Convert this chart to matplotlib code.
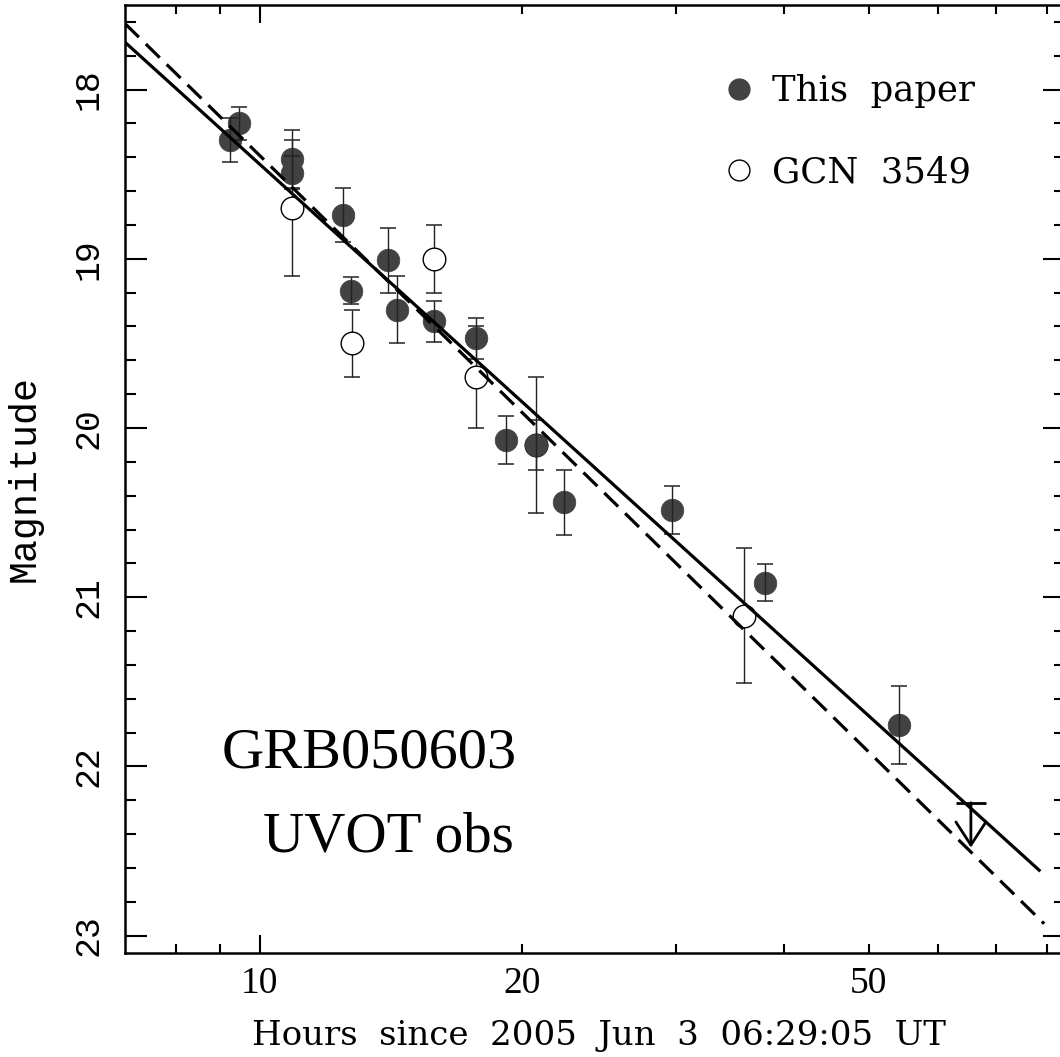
import matplotlib
matplotlib.use('Agg')
import matplotlib.pyplot as plt
from matplotlib.ticker import FixedLocator, FuncFormatter, MultipleLocator
from matplotlib.lines import Line2D

plt.rcParams['lines.scale_dashes'] = False

# ---------------- data ----------------
# "This paper" (filled circles)
paper_hours = [9.24, 9.47, 10.89, 10.89, 12.46, 12.72, 14.04, 14.37, 15.84,
               17.70, 19.16, 20.75, 22.35, 29.7, 37.98, 54.2]
paper_mag = [18.30, 18.20, 18.41, 18.49, 18.74, 19.19, 19.01, 19.30, 19.37,
             19.47, 20.07, 20.10, 20.44, 20.485, 20.915, 21.755]
paper_err = [0.13, 0.10, 0.17, 0.10, 0.16, 0.08, 0.19, 0.20, 0.12,
             0.12, 0.14, 0.15, 0.19, 0.14, 0.11, 0.23]

# "GCN 3549" (open circles)
gcn_hours = [10.89, 12.74, 15.84, 17.70, 20.75, 35.95]
gcn_mag = [18.70, 19.50, 19.00, 19.70, 20.10, 21.11]
gcn_err = [0.40, 0.20, 0.20, 0.30, 0.40, 0.40]

# upper limit
limit_hours = [65.5]
limit_mag = [22.215]
limit_arrow = [0.265]

# power-law fits (straight lines in log time)
fit_solid_hours = [7.0, 78.7]
fit_solid_mag = [17.72, 22.62]
fit_dashed_hours = [7.0, 79.5]
fit_dashed_mag = [17.61, 22.93]

x_major = [10]
x_minor = [8, 9, 20, 30, 40, 50, 60, 70, 80]
x_labelled = [10, 20, 50]
y_major = [18, 19, 20, 21, 22, 23]

legend_labels = ['This  paper', 'GCN  3549']
title_lines = ['GRB050603', 'UVOT obs']
xlabel = 'Hours  since  2005  Jun  3  06:29:05  UT'
ylabel = 'Magnitude'

# ---------------- figure ----------------
W, H = 1060, 1057
fig = plt.figure(figsize=(W / 100, H / 100), dpi=100)
ax = fig.add_axes([125 / W, 1 - 952.5 / H, 940 / W, 947.5 / H])

ax.set_xscale('log')
ax.set_xlim(7.0, 84.0)
ax.set_ylim(23.1, 17.5)

filled = '#424242'
ms = 16.3

# GCN open circles
ax.errorbar(gcn_hours, gcn_mag, yerr=gcn_err, fmt='none', ecolor='#222222',
            elinewidth=1.0, capsize=5.8, capthick=1.1, zorder=2)
ax.plot(gcn_hours, gcn_mag, 'o', ms=ms, mfc='white', mec='black', mew=1.0,
        ls='none', zorder=3)

# filled points
ax.plot(paper_hours, paper_mag, 'o', ms=ms, mfc=filled, mec=filled, mew=0.5,
        ls='none', zorder=3)
ax.errorbar(paper_hours, paper_mag, yerr=paper_err, fmt='none', ecolor='#222222',
            elinewidth=1.0, capsize=5.8, capthick=1.1, zorder=4)

# fit lines
ax.plot(fit_solid_hours, fit_solid_mag, color='black', lw=2.3, zorder=5,
        solid_capstyle='butt')
ax.plot(fit_dashed_hours, fit_dashed_mag, color='black', lw=2.3, zorder=5,
        dashes=(14, 7), dash_capstyle='butt')

# upper limit
for t, m, d in zip(limit_hours, limit_mag, limit_arrow):
    ax.plot([t], [m], marker='_', ms=21.6, mew=2.0, color='black', zorder=6)
    ax.annotate('', xy=(t, m + d), xytext=(t, m),
                arrowprops=dict(arrowstyle='->,head_length=1.66,head_width=1.08',
                                lw=2.0, color='black', shrinkA=0, shrinkB=0,
                                mutation_scale=10), zorder=6)

# ticks
ax.xaxis.set_major_locator(FixedLocator(x_major))
ax.xaxis.set_minor_locator(FixedLocator(x_minor))
fmt = FuncFormatter(lambda v, p: ('%d' % round(v)) if round(v) in x_labelled else '')
ax.xaxis.set_major_formatter(fmt)
ax.xaxis.set_minor_formatter(fmt)
ax.yaxis.set_major_locator(FixedLocator(y_major))
ax.yaxis.set_minor_locator(MultipleLocator(0.2))
ax.yaxis.set_major_formatter(FuncFormatter(lambda v, p: '%d' % round(v)))

ax.tick_params(axis='both', which='both', direction='in', top=True, right=True,
               color='black')
ax.tick_params(axis='x', which='major', length=13, width=1.5, pad=10)
ax.tick_params(axis='x', which='minor', length=6.5, width=1.5, pad=10)
ax.tick_params(axis='y', which='major', length=16, width=1.5, pad=15)
ax.tick_params(axis='y', which='minor', length=8, width=1.5)

for lab in ax.get_xticklabels(which='both'):
    lab.set_fontfamily('Liberation Serif')
    lab.set_fontsize(27)
for lab in ax.get_yticklabels():
    lab.set_fontfamily('Liberation Mono')
    lab.set_fontsize(25)
    lab.set_rotation(90)
    lab.set_va('center')
    lab.set_ha('right')

for s in ax.spines.values():
    s.set_linewidth(1.8)

# axis labels
fig.text(599 / W, 1 - 1045 / H, xlabel, ha='center', va='baseline',
         family='DejaVu Serif', fontsize=24.5)
fig.text(35 / W, 1 - 478 / H, ylabel, rotation=90, rotation_mode='anchor',
         ha='center', va='baseline', family='Liberation Mono', fontsize=27.5)

# annotation text
fig.text(222 / W, 1 - 767 / H, title_lines[0], ha='left', va='baseline',
         family='Liberation Serif', fontsize=42)
fig.text(263 / W, 1 - 852 / H, title_lines[1], ha='left', va='baseline',
         family='Liberation Serif', fontsize=41)

# legend
handles = [
    Line2D([], [], marker='o', ls='none', ms=15, mfc=filled, mec=filled),
    Line2D([], [], marker='o', ls='none', ms=15, mfc='white', mec='black', mew=1.0),
]
leg = ax.legend(handles, legend_labels, loc='upper left',
                bbox_to_anchor=((721 - 125) / 940, 1 - (74 - 5) / 947.5),
                frameon=False, handlelength=1.0, handletextpad=0.45,
                labelspacing=1.35, borderpad=0, borderaxespad=0, numpoints=1,
                prop={'family': 'DejaVu Serif', 'size': 25.5})

fig.savefig('out.png', dpi=100)
